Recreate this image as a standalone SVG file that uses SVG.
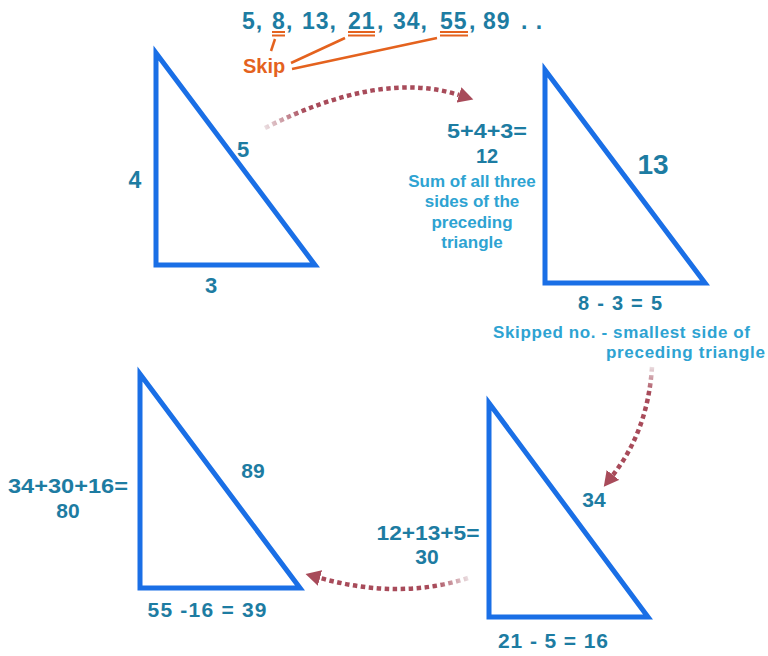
<svg xmlns="http://www.w3.org/2000/svg" width="768" height="656" viewBox="0 0 768 656">
<defs>
<style>
.tri{fill:none;stroke:#1a6fe6;stroke-width:5;stroke-linejoin:miter;stroke-miterlimit:20}
.num{font-family:"Liberation Sans",Arial,sans-serif;font-weight:bold;fill:#1d7ca2;text-anchor:middle}
.note{font-family:"Liberation Sans",Arial,sans-serif;font-weight:bold;fill:#2ea3d2;font-size:17px}
.skip{fill:none;stroke:#e4621e;stroke-width:2.5}
.ul{fill:none;stroke:#e4621e;stroke-width:2}
.arr{fill:none;stroke-width:4.5;stroke-dasharray:4.5 3.5}
</style>
<marker id="head" markerUnits="userSpaceOnUse" markerWidth="16" markerHeight="16" refX="0" refY="8" orient="auto" viewBox="0 0 16 16">
<path d="M0,0 L15,8 L0,16 z" fill="#a84b5a"/>
</marker>
<linearGradient id="g1" gradientUnits="userSpaceOnUse" x1="265" y1="128" x2="305" y2="110">
<stop offset="0" stop-color="#eadde0"/><stop offset="1" stop-color="#a84b5a"/>
</linearGradient>
<linearGradient id="g2" gradientUnits="userSpaceOnUse" x1="652" y1="367" x2="651" y2="392">
<stop offset="0" stop-color="#eadde0"/><stop offset="1" stop-color="#a84b5a"/>
</linearGradient>
<linearGradient id="g3" gradientUnits="userSpaceOnUse" x1="468" y1="578" x2="435" y2="588">
<stop offset="0" stop-color="#eadde0"/><stop offset="1" stop-color="#a84b5a"/>
</linearGradient>
</defs>
<rect width="768" height="656" fill="#ffffff"/>

<g id="sequence">
<text class="num" style="text-anchor:start;font-size:23px;letter-spacing:1px" y="29"><tspan x="242">5,</tspan><tspan x="272">8</tspan><tspan x="286">,</tspan><tspan x="302">13,</tspan><tspan x="348">21</tspan><tspan x="377">,</tspan><tspan x="393">34,</tspan><tspan x="440">55</tspan><tspan x="469">,</tspan><tspan x="483">89</tspan><tspan x="521">. .</tspan></text>
<line class="ul" x1="272" y1="32" x2="285" y2="32"/><line class="ul" x1="272" y1="35.5" x2="285" y2="35.5"/>
<line class="ul" x1="348" y1="32" x2="375" y2="32"/><line class="ul" x1="348" y1="35.5" x2="375" y2="35.5"/>
<line class="ul" x1="440" y1="32" x2="468" y2="32"/><line class="ul" x1="440" y1="35.5" x2="468" y2="35.5"/>
</g>

<g id="skip">
<text x="243" y="73" style="font-family:'Liberation Sans',Arial,sans-serif;font-weight:bold;font-size:20px;fill:#e4621e">Skip</text>
<line class="skip" x1="275" y1="39" x2="271" y2="51"/>
<line class="skip" x1="291" y1="63" x2="345" y2="38"/>
<line class="skip" x1="292" y1="69" x2="437" y2="38"/>
</g>

<g id="triangle1">
<polygon class="tri" points="156,53 156,265 315,265"/>
<text class="num" x="135" y="188" font-size="23">4</text>
<text class="num" x="243" y="157" font-size="22">5</text>
<text class="num" x="211" y="293" font-size="22">3</text>
</g>

<g id="triangle2">
<polygon class="tri" points="545,70 545,283 705,283"/>
<text class="num" x="487" y="138" font-size="20" textLength="80" lengthAdjust="spacingAndGlyphs">5+4+3=</text>
<text class="num" x="487" y="163" font-size="20">12</text>
<text class="note" x="472" y="187" text-anchor="middle">Sum of all three</text>
<text class="note" x="472" y="207" text-anchor="middle">sides of the</text>
<text class="note" x="472" y="228" text-anchor="middle">preceding</text>
<text class="note" x="472" y="248" text-anchor="middle">triangle</text>
<text class="num" x="653" y="174" font-size="28">13</text>
<text class="num" x="620" y="310" font-size="20" textLength="84">8 - 3 = 5</text>
<text class="note" x="493" y="338" textLength="257">Skipped no. - smallest side of</text>
<text class="note" x="606" y="358" textLength="159">preceding triangle</text>
</g>

<g id="triangle3">
<polygon class="tri" points="489,403 489,617 648,617"/>
<text class="num" x="594" y="507" font-size="21">34</text>
<text class="num" x="428" y="540" font-size="21" textLength="103" lengthAdjust="spacingAndGlyphs">12+13+5=</text>
<text class="num" x="427" y="564" font-size="21">30</text>
<text class="num" x="553" y="648" font-size="21" textLength="110">21 - 5 = 16</text>
</g>

<g id="triangle4">
<polygon class="tri" points="140,374 140,588 300,588"/>
<text class="num" x="253" y="478" font-size="21">89</text>
<text class="num" x="68" y="493" font-size="21" textLength="120" lengthAdjust="spacingAndGlyphs">34+30+16=</text>
<text class="num" x="68" y="518" font-size="21">80</text>
<text class="num" x="207" y="617" font-size="21" textLength="119">55 -16 = 39</text>
</g>

<g id="connectors">
<path class="arr" stroke="url(#g1)" d="M265,128 Q380,70 459,95" marker-end="url(#head)"/>
<path class="arr" stroke="url(#g2)" d="M652,367 Q648,430 613,475" marker-end="url(#head)"/>
<path class="arr" stroke="url(#g3)" d="M468,578 Q400,600 320,578" marker-end="url(#head)"/>
</g>
</svg>
